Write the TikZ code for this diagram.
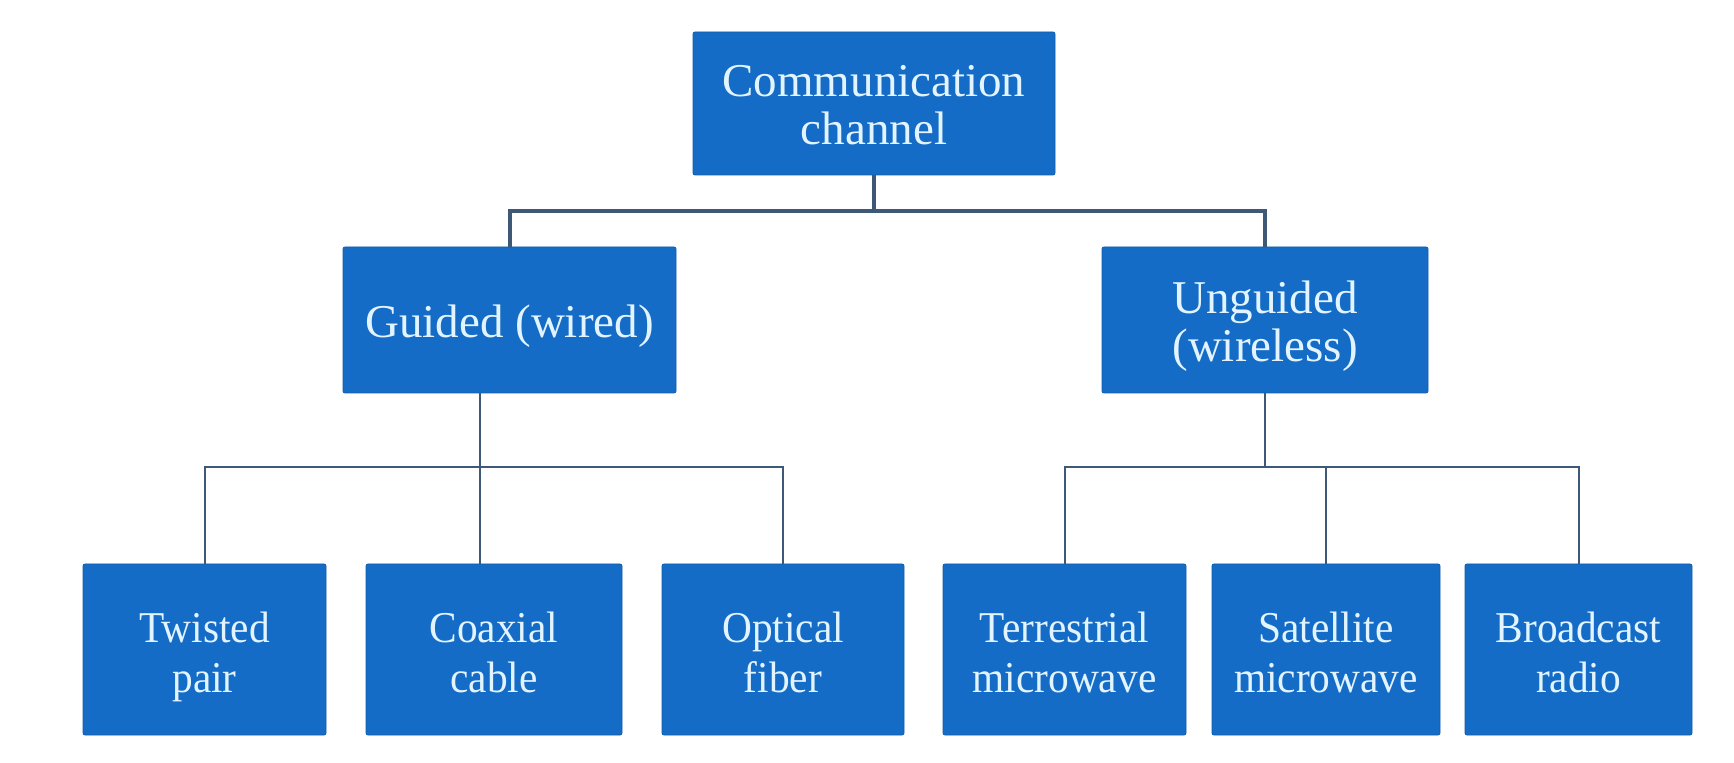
\documentclass[tikz,border=0pt]{standalone}
\usepackage{fontspec}
\setmainfont{Liberation Serif}
\newfontfamily\leaffont[FakeStretch=0.94]{Liberation Serif}
\definecolor{boxblue}{HTML}{156CC7}
\definecolor{boxtext}{HTML}{E2F4FF}
\definecolor{linkgray}{HTML}{3E5878}
% invisible rules: height of the first line, depth of the last line
\newcommand{\thead}{\rule{0pt}{23.5pt}}
\newcommand{\tfoot}{\rule[-6pt]{0pt}{0pt}}
\newcommand{\lhead}{\rule{0pt}{23pt}}
\newcommand{\lfoot}{\rule[-5pt]{0pt}{0pt}}

\begin{document}
\begin{tikzpicture}[
    x=0.5pt, y=-0.5pt,
    box/.style={
        rectangle,
        rounded corners=1pt,
        fill=boxblue,
        draw=boxblue!85!black,
        text=boxtext,
        align=center,
        inner sep=0pt,
        font=\fontsize{23.5}{24}\selectfont
    },
    leaf/.style={
        box,
        minimum height=85.5pt,
        font=\leaffont\fontsize{22}{25}\selectfont
    },
    mainlink/.style={linkgray, line width=2pt},
    link/.style={linkgray, line width=1pt}
]
\useasboundingbox (0,0) rectangle (1734,763);

% Root
\node[box, minimum width=181pt, minimum height=71.5pt] (root) at (874,103.5) {\thead Communication\\channel\tfoot};

% Second level
\node[box, minimum width=166.5pt, minimum height=73pt] (guided) at (509.5,320) {\thead Guided (wired)\tfoot};
\node[box, minimum width=163pt, minimum height=73pt] (unguided) at (1265,320) {\thead Unguided\\(wireless)\tfoot};

% Leaves
\node[leaf, minimum width=121.5pt] (twisted) at (204.5,649.5) {\lhead Twisted\\pair\lfoot};
\node[leaf, minimum width=128pt] (coaxial) at (494,649.5) {\lhead Coaxial\\cable\lfoot};
\node[leaf, minimum width=121pt] (optical) at (783,649.5) {\lhead Optical\\fiber\lfoot};
\node[leaf, minimum width=121.5pt] (terrestrial) at (1064.5,649.5) {\lhead Terrestrial\\microwave\lfoot};
\node[leaf, minimum width=114pt] (satellite) at (1326,649.5) {\lhead Satellite\\microwave\lfoot};
\node[leaf, minimum width=113.5pt] (broadcast) at (1578.5,649.5) {\lhead Broadcast\\radio\lfoot};

% Junctions
\coordinate (topbar) at (874,211);
\coordinate (wbar) at (480,467);
\coordinate (rbar) at (1265,467);

% Root -> second level
\draw[mainlink] (root.south) -- (topbar);
\draw[mainlink] (guided.north) |- (topbar) -| (unguided.north);

% Guided -> leaves
\draw[link] (guided.south -| wbar) -- (wbar);
\draw[link] (twisted.north) |- (wbar) -| (optical.north);
\draw[link] (coaxial.north -| wbar) -- (wbar);

% Unguided -> leaves
\draw[link] (unguided.south) -- (rbar);
\draw[link] (terrestrial.north) |- (rbar) -| (broadcast.north);
\draw[link] (satellite.north) -- (satellite.north |- rbar);

\end{tikzpicture}
\end{document}
